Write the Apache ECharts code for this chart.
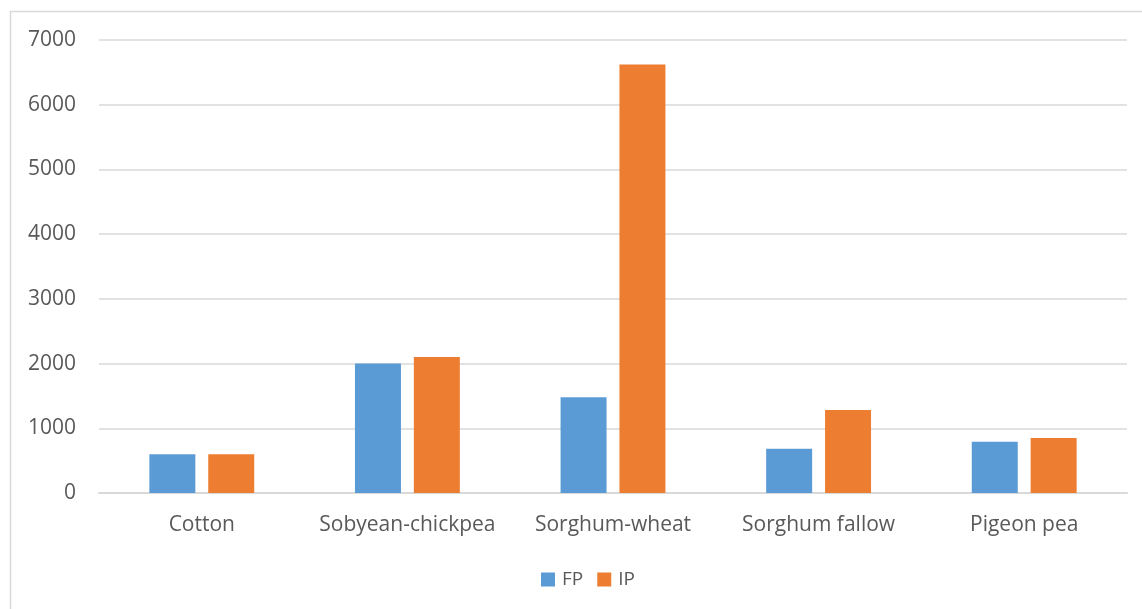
<!DOCTYPE html>
<html>
<head>
<meta charset="utf-8">
<script src="https://cdn.jsdelivr.net/npm/echarts@6/dist/echarts.min.js"></script>
<style>
  html, body { margin: 0; padding: 0; background: #ffffff; }
  #chart { width: 1142px; height: 609px; }
</style>
</head>
<body>
<div id="chart"></div>
<script>
// Cropping systems and the two practices compared
const categories = ['Cotton', 'Sobyean-chickpea', 'Sorghum-wheat', 'Sorghum fallow', 'Pigeon pea'];
const fpValues = [600, 2000, 1480, 685, 793];
const ipValues = [600, 2100, 6620, 1283, 850];
const yTicks = { min: 0, max: 7000, interval: 1000 };

const FONT = '"Open Sans", sans-serif';
const TEXT = '#595959';

const chart = echarts.init(document.getElementById('chart'), null, { renderer: 'canvas' });
chart.setOption({
  backgroundColor: '#ffffff',
  animation: false,
  textStyle: { fontFamily: FONT },
  graphic: [{
    type: 'rect',
    shape: { x: 10.5, y: 11.5, width: 1300, height: 800 },
    style: { fill: 'none', stroke: '#d9d9d9', lineWidth: 1.5 },
    silent: true,
    z: -1
  }],
  grid: { left: 99, right: 15, top: 40, bottom: 116, containLabel: false },
  legend: {
    data: ['FP', 'IP'],
    left: 536,
    top: 565,
    itemWidth: 14,
    itemHeight: 14,
    itemGap: 14,
    icon: 'rect',
    textStyle: { color: TEXT, fontSize: 19, fontFamily: FONT, padding: [0, 0, 0, 2] }
  },
  xAxis: {
    type: 'category',
    data: categories,
    axisLine: { show: true, lineStyle: { color: '#d9d9d9', width: 2 } },
    axisTick: { show: false },
    axisLabel: { color: TEXT, fontSize: 21, fontFamily: FONT, margin: 22, interval: 0 }
  },
  yAxis: {
    type: 'value',
    min: yTicks.min,
    max: yTicks.max,
    interval: yTicks.interval,
    axisLine: { show: false },
    axisTick: { show: false },
    axisLabel: { color: TEXT, fontSize: 21, fontFamily: FONT, margin: 23, formatter: v => String(v) },
    splitLine: { lineStyle: { color: '#d9d9d9', width: 1.5 } }
  },
  series: [
    {
      name: 'FP',
      type: 'bar',
      data: fpValues,
      barWidth: 46,
      barGap: '28%',
      itemStyle: { color: '#5b9bd5' }
    },
    {
      name: 'IP',
      type: 'bar',
      data: ipValues,
      barWidth: 46,
      barGap: '28%',
      itemStyle: { color: '#ed7d31' }
    }
  ]
});
</script>
</body>
</html>
